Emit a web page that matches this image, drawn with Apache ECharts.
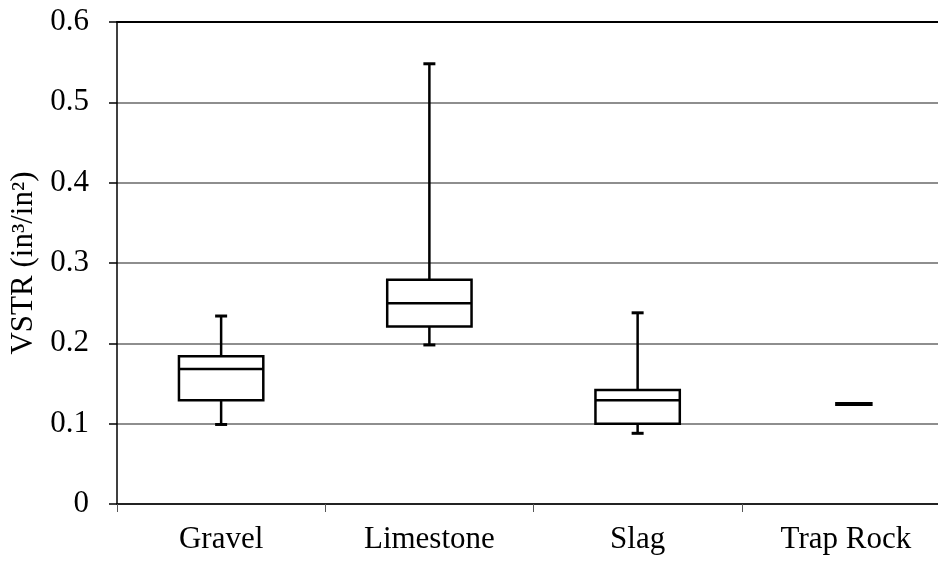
<!DOCTYPE html>
<html>
<head>
<meta charset="utf-8">
<script src="https://cdn.jsdelivr.net/npm/echarts@6/dist/echarts.min.js"></script>
<style>
  html, body { margin: 0; padding: 0; background: #fff; }
  #chart { width: 938px; height: 563px; }
</style>
</head>
<body>
<div id="chart"></div>
<script>
const categories = ['Gravel', 'Limestone', 'Slag', 'Trap Rock'];
const minValues = [0.099, 0.198, 0.088, 0.1245];
const q1Values = [0.129, 0.221, 0.100, 0.1245];
const medianValues = [0.168, 0.250, 0.129, 0.1245];
const q3Values = [0.184, 0.279, 0.142, 0.1245];
const maxValues = [0.234, 0.548, 0.238, 0.1245];
const yTicks = [0, 0.1, 0.2, 0.3, 0.4, 0.5, 0.6];
const yAxisTitle = 'VSTR (in³/in²)';

const boxData = categories.map((c, i) => [i, minValues[i], q1Values[i], medianValues[i], q3Values[i], maxValues[i]]);

const FONT = 'Liberation Serif';
const chart = echarts.init(document.getElementById('chart'), null, { renderer: 'canvas' });

function renderBox(params, api) {
  const idx = api.value(0);
  const vMin = api.value(1), vQ1 = api.value(2), vMed = api.value(3), vQ3 = api.value(4), vMax = api.value(5);
  const cx = api.coord([idx, vMed])[0];
  const band = api.size([1, 0])[0];
  const yMin = api.coord([idx, vMin])[1];
  const yQ1 = api.coord([idx, vQ1])[1];
  const yMed = api.coord([idx, vMed])[1];
  const yQ3 = api.coord([idx, vQ3])[1];
  const yMax = api.coord([idx, vMax])[1];
  const stroke = { stroke: '#000', lineWidth: 2.5, fill: null };
  if (vMax - vMin < 1e-6) {
    const w = band * 0.18;
    return {
      type: 'rect',
      shape: { x: cx - w / 2 + 8, y: yMed - 2, width: w, height: 4 },
      style: { fill: '#000' }
    };
  }
  const bw = band * 0.405;
  const cap = 12;
  return {
    type: 'group',
    children: [
      { type: 'line', shape: { x1: cx, y1: yQ3, x2: cx, y2: yMax }, style: stroke },
      { type: 'line', shape: { x1: cx, y1: yQ1, x2: cx, y2: yMin }, style: stroke },
      { type: 'line', shape: { x1: cx - cap / 2, y1: yMax, x2: cx + cap / 2, y2: yMax }, style: { stroke: '#000', lineWidth: 3 } },
      { type: 'line', shape: { x1: cx - cap / 2, y1: yMin, x2: cx + cap / 2, y2: yMin }, style: { stroke: '#000', lineWidth: 3 } },
      { type: 'rect', shape: { x: cx - bw / 2, y: yQ3, width: bw, height: yQ1 - yQ3 }, style: { stroke: '#000', lineWidth: 2.5, fill: '#fff' } },
      { type: 'line', shape: { x1: cx - bw / 2, y1: yMed, x2: cx + bw / 2, y2: yMed }, style: stroke }
    ]
  };
}

chart.setOption({
  backgroundColor: '#fff',
  animation: false,
  grid: { left: 117, top: 22, width: 833, height: 482, containLabel: false, outerBoundsMode: 'none' },
  xAxis: [
    {
      type: 'category',
      data: categories,
      boundaryGap: true,
      axisLine: { show: true, lineStyle: { color: '#000', width: 1.5 } },
      axisTick: { show: true, length: 8, inside: false, lineStyle: { color: '#555', width: 1 } },
      axisLabel: { color: '#000', fontFamily: FONT, fontSize: 31, margin: 20 },
      splitLine: { show: false }
    },
    {
      type: 'category',
      data: categories,
      position: 'top',
      z: 10,
      axisLine: { show: true, lineStyle: { color: '#000', width: 2 } },
      axisTick: { show: false },
      axisLabel: { show: false },
      splitLine: { show: false }
    }
  ],
  yAxis: {
    type: 'value',
    min: yTicks[0],
    max: yTicks[yTicks.length - 1],
    interval: 0.1,
    name: yAxisTitle,
    nameLocation: 'middle',
    nameGap: 75,
    nameRotate: 90,
    nameTextStyle: { color: '#000', fontFamily: FONT, fontSize: 31 },
    axisLine: { show: true, lineStyle: { color: '#000', width: 1.5 } },
    axisTick: { show: true, length: 8, inside: false, lineStyle: { color: '#000', width: 1.5 } },
    axisLabel: { color: '#000', fontFamily: FONT, fontSize: 31, margin: 28 },
    splitLine: { show: true, lineStyle: { color: '#8e8e8e', width: 2 } }
  },
  series: [
    {
      type: 'custom',
      xAxisIndex: 0,
      yAxisIndex: 0,
      renderItem: renderBox,
      data: boxData,
      encode: { x: 0, y: [1, 2, 3, 4, 5] },
      z: 5
    }
  ]
});
</script>
</body>
</html>
